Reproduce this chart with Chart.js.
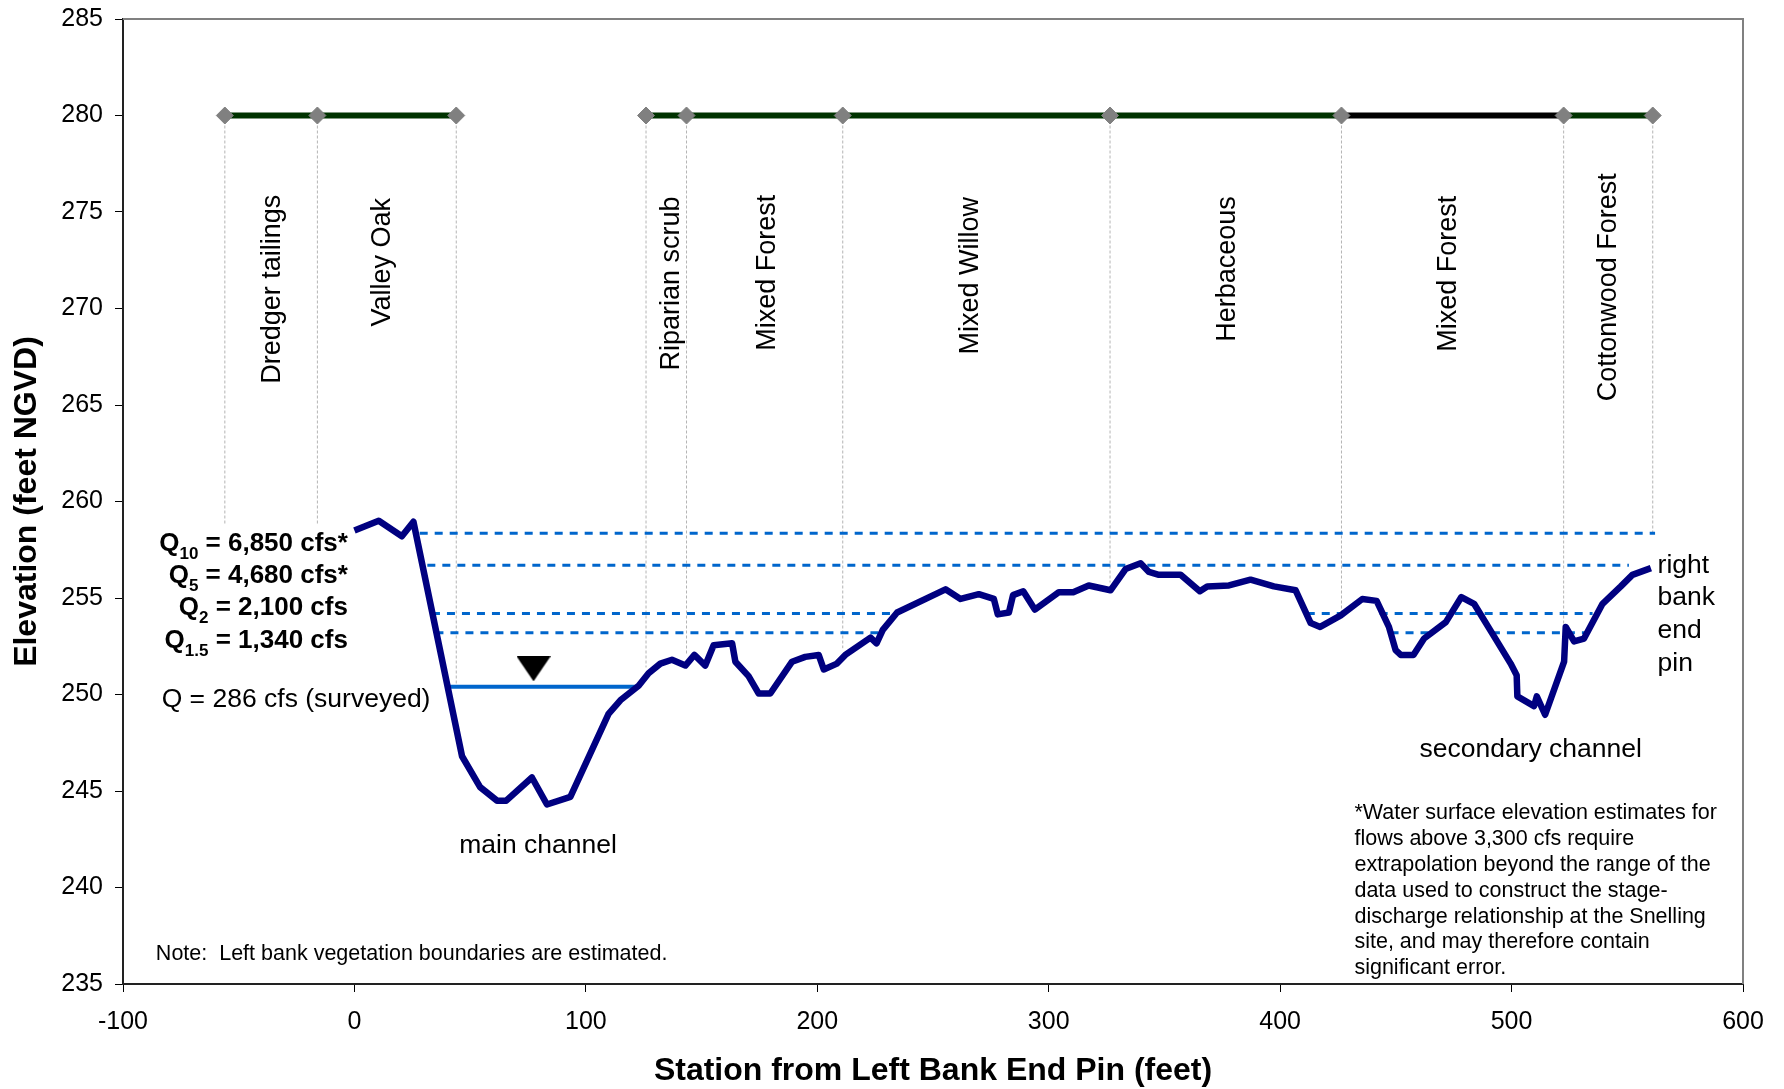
<!DOCTYPE html>
<html>
<head>
<meta charset="utf-8">
<script src="https://cdn.jsdelivr.net/npm/chart.js@4.4.1/dist/chart.umd.min.js"></script>
<style>
  html, body { margin: 0; padding: 0; background: #fff; }
  #wrap { width: 1784px; height: 1089px; }
</style>
</head>
<body>
<div id="wrap"><canvas id="xsec" width="1784" height="1089"></canvas></div>
<script>
// ground profile: station from left bank end pin (ft) / elevation (ft NGVD)
const station = [0, 10.5, 20.5, 25.5, 46.5, 54.3, 61.6, 65.6, 76.7, 83.2, 93.3, 109.8, 114.9, 122.8,
  127.1, 132.2, 137.2, 143.0, 146.9, 151.6, 155.2, 163.2, 164.6, 170.3, 174.7, 179.7, 189.1, 194.8,
  200.6, 202.8, 208.5, 212.1, 223.0, 225.6, 228.3, 234.5, 255.4, 261.9, 269.8, 276.3, 278.0, 282.8,
  284.6, 289.0, 294.0, 304.4, 310.6, 317.3, 326.7, 333.2, 339.7, 343.3, 347.6, 357.0, 365.3, 368.5,
  377.9, 387.2, 397.3, 406.7, 413.2, 417.3, 426.2, 435.5, 441.7, 447.0, 449.9, 452.1, 457.6, 462.2,
  471.6, 478.3, 483.8, 492.5, 499.6, 502.2, 502.5, 509.7, 510.9, 514.5, 522.7, 523.4, 527.0, 531.3,
  539.3, 547.2, 552.2, 560.2];
const elevation = [258.5, 259.0, 258.2, 258.95, 246.8, 245.2, 244.5, 244.5, 245.7, 244.3, 244.7, 249.0, 249.7, 250.45,
  251.1, 251.6, 251.8, 251.5, 252.05, 251.5, 252.55, 252.65, 251.7, 250.95, 250.05, 250.05, 251.7, 251.95,
  252.05, 251.3, 251.6, 252.05, 252.95, 252.65, 253.35, 254.25, 255.45, 254.95, 255.2, 254.95, 254.15, 254.25,
  255.15, 255.35, 254.4, 255.3, 255.3, 255.65, 255.4, 256.5, 256.8, 256.35, 256.2, 256.2, 255.35, 255.6,
  255.65, 255.95, 255.6, 255.4, 253.7, 253.5, 254.1, 254.95, 254.85, 253.5, 252.3, 252.05, 252.05, 252.9,
  253.75, 255.05, 254.7, 253.0, 251.6, 251.0, 249.9, 249.4, 249.9, 248.95, 251.7, 253.5, 252.75, 252.9,
  254.7, 255.6, 256.2, 256.55];

// vegetation zones drawn along the 280 ft line
const vegNames = ["Dredger tailings", "Valley Oak", "Riparian scrub", "Mixed Forest", "Mixed Willow",
  "Herbaceous", "Mixed Forest", "Cottonwood Forest"];
const vegFrom = [-56, -16, 126, 143.5, 211, 326.5, 426.5, 522.5];
const vegTo = [-16, 44, 143.5, 211, 326.5, 426.5, 522.5, 561];
const vegBandY = 280;
// boundary drop lines: station and elevation where each one stops
const dropStation = [-56, -16, 44, 126, 143.5, 211, 326.5, 426.5, 522.5, 561];
const dropBottom = [258.8, 258.8, 250.5, 251.4, 252.1, 252.4, 255.8, 254.2, 253.5, 258.4];
// label anchors (station, elevation of label centre)
const vegLabelX = [-35.4, 12.3, 137.1, 178.6, 266.4, 377.4, 472.9, 541.8];
const vegLabelY = [271.0, 272.4, 271.3, 271.85, 271.7, 272.05, 271.8, 271.1];

// water surface elevations for flood flows
const flowSub = ["10", "5", "2", "1.5"];
const flowText = [" = 6,850 cfs*", " = 4,680 cfs*", " = 2,100 cfs", " = 1,340 cfs"];
const flowElev = [258.35, 256.7, 254.2, 253.2];
const flowReaches = [
  [[28.2, 562]],
  [[31.5, 550.7]],
  [[33.5, 234], [411.5, 427.5], [443, 535]],
  [[35, 227.7], [447.7, 465.5], [491.5, 532]]
];
const surveyedElev = 250.4;
const surveyedReach = [39.9, 122.8];
const surveyedMarker = [77.4, 251.33];

const footnote = [
  "*Water surface elevation estimates for",
  "flows above 3,300 cfs require",
  "extrapolation beyond the range of the",
  "data used to construct the stage-",
  "discharge relationship at the Snelling",
  "site, and may therefore contain",
  "significant error."
];

const FAMILY = '"Liberation Sans", Arial, sans-serif';
Chart.defaults.font.family = FAMILY;
Chart.defaults.color = "#000";

function font(size, bold) {
  return (bold ? "bold " : "") + size + "px " + FAMILY;
}

// text with a subscript part, e.g. Q10
function drawRich(ctx, parts, x, y, align, size, bold) {
  let w = 0;
  parts.forEach(p => {
    ctx.font = font(p.sub ? Math.round(size * 0.66) : size, bold);
    w += ctx.measureText(p.t).width;
  });
  let cx = align === "right" ? x - w : x;
  ctx.textAlign = "left";
  ctx.textBaseline = "alphabetic";
  parts.forEach(p => {
    ctx.font = font(p.sub ? Math.round(size * 0.66) : size, bold);
    ctx.fillText(p.t, cx, p.sub ? y + 8 : y);
    cx += ctx.measureText(p.t).width;
  });
}

// water surface marker: a flat down-pointing triangle
const tri = document.createElement("canvas");
tri.width = 34;
tri.height = 25;
(function () {
  const c = tri.getContext("2d");
  c.fillStyle = "#000";
  c.beginPath();
  c.moveTo(0, 0);
  c.lineTo(34, 0);
  c.lineTo(17, 25);
  c.closePath();
  c.fill();
})();

const profile = station.map((s, i) => ({ x: s, y: elevation[i] }));

function reachPoints(reaches, y) {
  const pts = [];
  reaches.forEach((r, i) => {
    if (i > 0) pts.push({ x: r[0], y: null });
    pts.push({ x: r[0], y: y }, { x: r[1], y: y });
  });
  return pts;
}

const datasets = [];

datasets.push({
  label: "ground",
  data: profile,
  showLine: true,
  borderColor: "#000080",
  borderWidth: 6.5,
  pointRadius: 0,
  borderJoinStyle: "round",
  order: 1
});

flowElev.forEach((e, i) => {
  datasets.push({
    label: "Q" + flowSub[i],
    data: reachPoints(flowReaches[i], e),
    showLine: true,
    borderColor: "#0066CC",
    borderWidth: 3,
    borderDash: [8, 7],
    pointRadius: 0,
    spanGaps: false,
    order: 3
  });
});

datasets.push({
  label: "surveyed",
  data: [{ x: surveyedReach[0], y: surveyedElev }, { x: surveyedReach[1], y: surveyedElev }],
  showLine: true,
  borderColor: "#0066CC",
  borderWidth: 4,
  pointRadius: 0,
  order: 2
});

datasets.push({
  label: "marker",
  data: [{ x: surveyedMarker[0], y: surveyedMarker[1] }],
  showLine: false,
  pointStyle: tri,
  pointRadius: 17,
  order: 2
});

const dropPts = [];
dropStation.forEach((s, i) => {
  if (i > 0) dropPts.push({ x: s, y: null });
  dropPts.push({ x: s, y: vegBandY }, { x: s, y: dropBottom[i] });
});
datasets.push({
  label: "drops",
  data: dropPts,
  showLine: true,
  borderColor: "#b4b4b4",
  borderWidth: 1,
  borderDash: [3, 2],
  pointRadius: 0,
  spanGaps: false,
  order: 6
});

vegNames.forEach((n, i) => {
  datasets.push({
    label: n,
    data: [{ x: vegFrom[i], y: vegBandY }, { x: vegTo[i], y: vegBandY }],
    showLine: true,
    borderColor: i === 6 ? "#000000" : "#003300",
    borderWidth: 6,
    pointRadius: 0,
    order: 5
  });
});

datasets.push({
  label: "boundaries",
  data: dropStation.map(s => ({ x: s, y: vegBandY })),
  showLine: false,
  pointStyle: "rectRot",
  pointRadius: 8.5,
  backgroundColor: "#808080",
  borderColor: "#808080",
  borderWidth: 1,
  order: 4
});

const extras = {
  id: "extras",
  beforeDatasetsDraw(chart) {
    const { ctx, chartArea: a } = chart;
    ctx.save();
    ctx.strokeStyle = "#808080";
    ctx.lineWidth = 2;
    ctx.beginPath();
    ctx.moveTo(a.left, a.top);
    ctx.lineTo(a.right, a.top);
    ctx.lineTo(a.right, a.bottom);
    ctx.stroke();
    ctx.restore();
  },
  afterDatasetsDraw(chart) {
    const { ctx, chartArea: a, scales: { x, y } } = chart;
    ctx.save();
    ctx.fillStyle = "#000";

    // axis titles
    ctx.font = font(32, true);
    ctx.textAlign = "center";
    ctx.textBaseline = "alphabetic";
    ctx.fillText("Station from Left Bank End Pin (feet)", (a.left + a.right) / 2, 1080);
    ctx.save();
    ctx.translate(27, (a.top + a.bottom) / 2);
    ctx.rotate(-Math.PI / 2);
    ctx.textBaseline = "middle";
    ctx.fillText("Elevation (feet NGVD)", 0, 0);
    ctx.restore();

    // vegetation labels
    ctx.font = font(27, false);
    vegNames.forEach((n, i) => {
      ctx.save();
      ctx.translate(x.getPixelForValue(vegLabelX[i]), y.getPixelForValue(vegLabelY[i]));
      ctx.rotate(-Math.PI / 2);
      ctx.textAlign = "center";
      ctx.textBaseline = "middle";
      ctx.fillText(n, 0, 0);
      ctx.restore();
    });

    // flow labels
    const qx = x.getPixelForValue(-2.8);
    const qBase = [257.43, 255.79, 254.1, 252.42];
    flowSub.forEach((s, i) => {
      drawRich(ctx, [{ t: "Q" }, { t: s, sub: true }, { t: flowText[i] }],
        qx, y.getPixelForValue(qBase[i]), "right", 26, true);
    });
    ctx.font = font(26.5, false);
    ctx.textAlign = "left";
    ctx.fillText("Q = 286 cfs (surveyed)", x.getPixelForValue(-83.3), y.getPixelForValue(249.33));

    ctx.fillText("main channel", x.getPixelForValue(45.3), y.getPixelForValue(241.78));
    ctx.fillText("secondary channel", x.getPixelForValue(460.2), y.getPixelForValue(246.76));
    ["right", "bank", "end", "pin"].forEach((w, i) => {
      ctx.fillText(w, x.getPixelForValue(563.1), y.getPixelForValue(256.31) + i * 32.7);
    });

    ctx.font = font(21.5, false);
    ctx.fillText("Note:  Left bank vegetation boundaries are estimated.",
      x.getPixelForValue(-85.8), y.getPixelForValue(236.25));
    footnote.forEach((l, i) => {
      ctx.fillText(l, x.getPixelForValue(432.1), y.getPixelForValue(243.53) + i * 25.8);
    });
    ctx.restore();
  }
};

new Chart(document.getElementById("xsec"), {
  type: "scatter",
  data: { datasets: datasets },
  options: {
    responsive: false,
    animation: false,
    devicePixelRatio: 1,
    layout: { padding: { top: 19, right: 41, bottom: 0, left: 0 } },
    plugins: { legend: { display: false }, tooltip: { enabled: false } },
    elements: { line: { tension: 0, fill: false } },
    scales: {
      x: {
        type: "linear",
        min: -100,
        max: 600,
        ticks: { stepSize: 100, color: "#000", font: { size: 25 }, padding: 15, maxRotation: 0 },
        grid: { drawOnChartArea: false, drawTicks: true, tickLength: 8, tickColor: "#000", tickWidth: 1 },
        border: { color: "#222", width: 2 },
        afterFit(s) { s.height = 105; s.paddingLeft = 0; s.paddingRight = 0; }
      },
      y: {
        min: 235,
        max: 285,
        ticks: { stepSize: 5, color: "#000", font: { size: 25 }, padding: 12 },
        grid: { drawOnChartArea: false, drawTicks: true, tickLength: 8, tickColor: "#000", tickWidth: 1 },
        border: { color: "#222", width: 2 },
        afterFit(s) { s.width = 123; s.paddingTop = 0; s.paddingBottom = 0; }
      }
    }
  },
  plugins: [extras]
});
</script>
</body>
</html>
